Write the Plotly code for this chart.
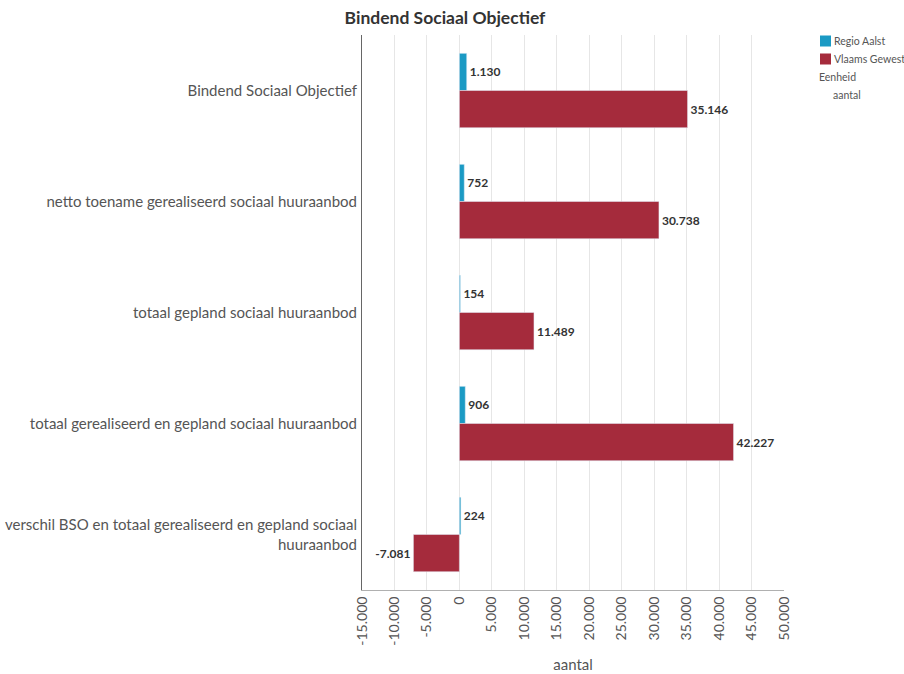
import plotly.graph_objects as go

categories = [
    "Bindend Sociaal Objectief",
    "netto toename gerealiseerd sociaal huuraanbod",
    "totaal gepland sociaal huuraanbod",
    "totaal gerealiseerd en gepland sociaal huuraanbod",
    "verschil BSO en totaal gerealiseerd en gepland sociaal<br>huuraanbod",
]
series_names = ["Regio Aalst", "Vlaams Gewest"]
regio_aalst = [1130, 752, 154, 906, 224]
vlaams_gewest = [35146, 30738, 11489, 42227, -7081]
tick_vals = list(range(-15000, 50001, 5000))
tick_text = [f"{v:,}".replace(",", ".") for v in tick_vals]
colors = ["#1b9ac4", "#a52b3c"]

def fmt(v):
    return f"{v:,}".replace(",", ".")

FONT = "Source Sans Pro, Lato, Open Sans, sans-serif"

W, H = 904, 674
L, T = 362, 35
PW, PH = 422, 555
R, B = W - L - PW, H - T - PH

fig = go.Figure()
for name, vals, col in zip(series_names, [regio_aalst, vlaams_gewest], colors):
    fig.add_trace(go.Bar(
        y=categories, x=vals, orientation="h", name=name,
        marker_color=col, text=[f"<b>{fmt(v)}</b>" for v in vals],
        textposition="outside", cliponaxis=False,
        textfont=dict(family=FONT, size=12, color="#333333"),
    ))

def px_x(x):
    return (x - L) / PW

def px_y(y):
    return (T + PH - y) / PH

fig.update_layout(
    width=W, height=H,
    paper_bgcolor="white", plot_bgcolor="white",
    font=dict(family=FONT, color="#555555"),
    title=dict(text="<b>Bindend Sociaal Objectief</b>", x=445 / W, xanchor="center",
               y=1 - 18 / H, yanchor="middle", font=dict(size=17.5, color="#333333")),
    margin=dict(l=L, r=R, t=T, b=B, autoexpand=False),
    barmode="group", bargap=0.33, bargroupgap=0,
    showlegend=False,
)
fig.update_xaxes(
    range=[-15000, 50000], tickvals=tick_vals, ticktext=tick_text,
    tickangle=-90, showgrid=True, gridcolor="#e6e6e6", zeroline=False,
    showline=True, linecolor="#b0b0b0", tickfont=dict(size=14, color="#555555"),
    title=dict(text="aantal", font=dict(size=15, color="#555555"), standoff=14),
    ticks="", automargin=False,
)
fig.update_yaxes(
    autorange="reversed", showline=True, linecolor="#666666",
    tickfont=dict(size=15, color="#555555"), ticks="", ticklabelstandoff=1,
    automargin=False,
)

# legend drawn manually
legend_rows = [41, 59]
for name, col, yy in zip(series_names, colors, legend_rows):
    fig.add_shape(type="rect", xref="paper", yref="paper",
                  x0=px_x(820), x1=px_x(831), y0=px_y(yy + 5.5), y1=px_y(yy - 5.5),
                  fillcolor=col, line=dict(width=0))
    fig.add_annotation(text=name, xref="paper", yref="paper", x=px_x(832), y=px_y(yy),
                       xanchor="left", yanchor="middle", showarrow=False,
                       font=dict(size=10.5, color="#555555"))
fig.add_annotation(text="Eenheid", xref="paper", yref="paper", x=px_x(817), y=px_y(77),
                   xanchor="left", yanchor="middle", showarrow=False,
                   font=dict(size=10.5, color="#555555"))
fig.add_annotation(text="aantal", xref="paper", yref="paper", x=px_x(831), y=px_y(95),
                   xanchor="left", yanchor="middle", showarrow=False,
                   font=dict(size=10.5, color="#555555"))

fig.write_html(
    "out.html",
    config={"displayModeBar": False},
    post_script="document.body.style.margin='0';document.body.style.overflow='hidden';",
)
